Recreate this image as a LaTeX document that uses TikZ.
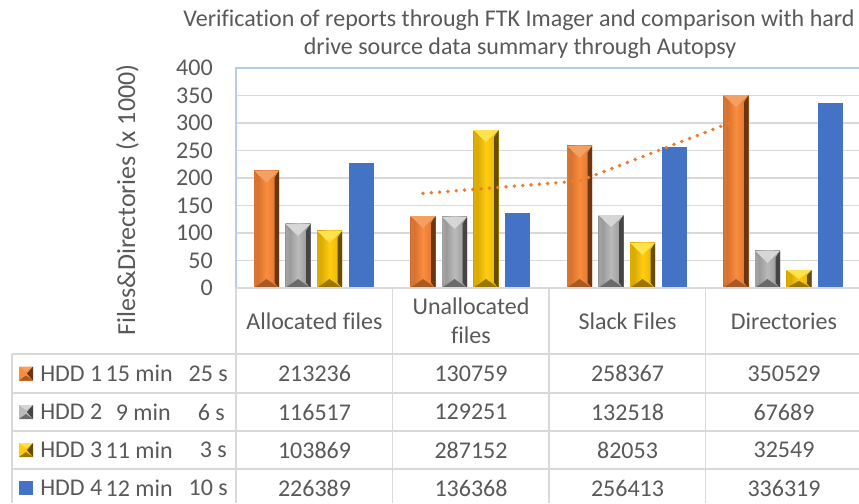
\documentclass[tikz,border=0pt]{standalone}
\usepackage{fontspec}
\setmainfont[Ligatures=NoCommon]{Carlito}

% text and line colours
\definecolor{txt}{HTML}{595959}
\definecolor{gridc}{HTML}{D9D9D9}
\definecolor{edgec}{HTML}{B4CDE8}
\definecolor{hddblue}{HTML}{4472C4}
\definecolor{trendc}{HTML}{ED7D31}
% bevelled series: L/M/R body shading, E left strip, S right strip, T top, B bottom
\definecolor{orL}{HTML}{C8672C}\definecolor{orM}{HTML}{FA8C3D}\definecolor{orR}{HTML}{D8702E}
\definecolor{orE}{HTML}{DA7634}\definecolor{orS}{HTML}{6A3612}\definecolor{orT}{HTML}{F3A062}\definecolor{orB}{HTML}{A85A26}
\definecolor{grL}{HTML}{8C8C8C}\definecolor{grM}{HTML}{BABABA}\definecolor{grR}{HTML}{909090}
\definecolor{grE}{HTML}{A2A2A2}\definecolor{grS}{HTML}{444444}\definecolor{grT}{HTML}{D6D6D6}\definecolor{grB}{HTML}{6A6A6A}
\definecolor{ylL}{HTML}{CA9C00}\definecolor{ylM}{HTML}{FFCC12}\definecolor{ylR}{HTML}{E2B200}
\definecolor{ylE}{HTML}{DCAE00}\definecolor{ylS}{HTML}{664C00}\definecolor{ylT}{HTML}{FFE24C}\definecolor{ylB}{HTML}{9A7600}

\tikzset{
  lab/.style={inner sep=0pt, text=txt, font=\fontsize{18}{22}\selectfont},
  ttl/.style={inner sep=0pt, text=txt, font=\fontsize{18}{21}\selectfont},
  gridline/.style={draw=gridc, line width=1.1pt},
  tabline/.style={draw=gridc, line width=1.3pt},
  plotedge/.style={draw=edgec, line width=1.1pt},
  trend/.style={draw=trendc, line width=2.9pt, line cap=round, dash pattern=on 0pt off 6.25pt},
}

% value in thousands -> vertical pixel position
\newcommand{\valY}[1]{288-0.55*#1}

% bevelled column: #1 left x, #2 value, #3 colour prefix
\newcommand{\bevbar}[3]{%
  \pgfmathsetmacro\barTop{288-0.55*#2}%
  \pgfmathsetmacro\barRgt{#1+25}%
  \pgfmathsetmacro\barMid{#1+12.5}%
  \pgfmathsetmacro\barDd{min(12,0.5*(288-\barTop))}%
  \pgfmathsetmacro\barDb{min(9,0.4*(288-\barTop))}%
  \shade[left color=#3L, right color=#3R, middle color=#3M] (#1,\barTop) rectangle (\barRgt,288);
  \fill[#3E] (#1,\barTop) -- (#1+3.5,\barTop+\barDd*0.6) -- (#1+3.5,288-\barDb*0.6) -- (#1,288) -- cycle;
  \fill[#3S] (\barRgt,\barTop) -- (\barRgt-4.5,\barTop+\barDd*0.6) -- (\barRgt-4.5,288-\barDb*0.6) -- (\barRgt,288) -- cycle;
  \fill[#3T] (#1,\barTop) -- (\barRgt,\barTop) -- (\barMid,\barTop+\barDd) -- cycle;
  \fill[#3B] (#1,288) -- (\barRgt,288) -- (\barMid,288-\barDb) -- cycle;
}

% legend key inside the data table: #1 row centre, #2 colour prefix
\newcommand{\bevkey}[2]{%
  \fill[#2M] (19,#1-7) rectangle (33,#1+7);
  \fill[#2T] (19,#1-7) -- (33,#1-7) -- (26,#1-2) -- cycle;
  \fill[#2B] (19,#1+7) -- (33,#1+7) -- (26,#1+2) -- cycle;
  \fill[#2S] (33,#1-7) -- (33,#1+7) -- (27,#1) -- cycle;
}

\begin{document}
\begin{tikzpicture}[x=0.75pt, y=-0.75pt]
\useasboundingbox (0,0) rectangle (859,503);
\fill[white] (0,0) rectangle (859,503);

% title
\node[ttl, anchor=base] (title1) at (519,27) {Verification of reports through FTK Imager and comparison with hard};
\node[ttl, anchor=base] (title2) at (520,55) {drive source data summary through Autopsy};

% value axis
\node[lab, font=\fontsize{19.5}{22}\selectfont, rotate=90, anchor=base] (ylab) at (135,200) {Files\&Directories (x 1000)};
\foreach \v in {0,50,...,400}
  \node[lab, anchor=east] (tick\v) at (213,{\valY{\v}}) {\v};

% horizontal gridlines
\foreach \v in {50,100,...,350}
  \draw[gridline] (236,{\valY{\v}}) -- (862,{\valY{\v}});

% plot area edge
\draw[plotedge] (236,288) -- (236,68) -- (862,68);

% columns
\foreach \i/\a/\b/\c/\d in {0/213.236/116.517/103.869/226.389,
                            1/130.759/129.251/287.152/136.368,
                            2/258.367/132.518/82.053/256.413,
                            3/350.529/67.689/32.549/336.319} {
  \pgfmathsetmacro\grpX{254+156.5*\i}
  \bevbar{\grpX}{\a}{or}
  \bevbar{\grpX+31.5}{\b}{gr}
  \bevbar{\grpX+63}{\c}{yl}
  \fill[hddblue] (\grpX+94.5,{\valY{\d}}) rectangle (\grpX+119.5,288);
}

% two-period moving average of HDD 1
\coordinate (ma2) at (423,{\valY{171.998}});
\coordinate (ma3) at (579.5,{\valY{194.563}});
\coordinate (ma4) at (736,{\valY{304.448}});
\draw[trend] (ma2) -- (ma3) -- (ma4);

% data table grid
\draw[tabline] (236,288) -- (862,288);
\foreach \x in {236,392.5,549,705.5}
  \draw[tabline] (\x,288) -- (\x,503);
\draw[tabline] (12,503) -- (12,354);
\foreach \y in {354,393,431,469}
  \draw[tabline] (12,\y) -- (862,\y);

% category labels
\node[lab] (cat1) at (314.5,321) {Allocated files};
\node[lab, align=center] (cat2) at (471,321) {Unallocated\\files};
\node[lab] (cat3) at (627.5,321) {Slack Files};
\node[lab] (cat4) at (784,321) {Directories};

% series rows
\bevkey{373.5}{or}
\bevkey{412}{gr}
\bevkey{450}{yl}
\fill[hddblue] (19,481) rectangle (33,495);

\foreach \r/\y/\n/\m/\mx/\s/\sx in {1/373.5/1/15 min/173/25 s/228,
                                    2/412/2/9 min/171/6 s/225,
                                    3/450/3/11 min/173/3 s/227,
                                    4/488/4/12 min/173/10 s/228} {
  \node[lab, anchor=west] (hdd\r) at (40,\y) {HDD \n};
  \node[lab, anchor=east] (min\r) at (\mx,\y) {\m};
  \node[lab, anchor=east] (sec\r) at (\sx,\y) {\s};
}

\foreach \r/\y/\a/\b/\c/\d in {1/373.5/213236/130759/258367/350529,
                               2/412/116517/129251/132518/67689,
                               3/450/103869/287152/82053/32549,
                               4/488/226389/136368/256413/336319} {
  \node[lab] (v\r a) at (314.5,\y) {\a};
  \node[lab] (v\r b) at (471,\y) {\b};
  \node[lab] (v\r c) at (627.5,\y) {\c};
  \node[lab] (v\r d) at (784,\y) {\d};
}
\end{tikzpicture}
\end{document}
